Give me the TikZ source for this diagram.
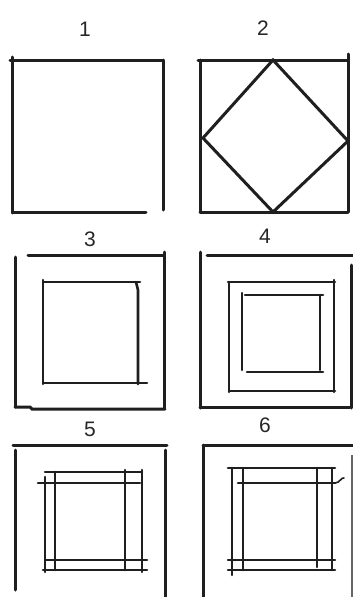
\documentclass[tikz,border=0pt]{standalone}
\usepackage{fontspec}
\setmainfont{Liberation Sans}
\begin{document}
\begin{tikzpicture}[x=1pt,y=-1pt,
  ln/.style={line width=3pt, draw=black!88, line cap=round},
  thin/.style={line width=2.6pt, draw=black!88, line cap=round},
  lab/.style={font=\fontsize{21}{21}\selectfont, text=black!85, inner sep=0pt}]
\useasboundingbox[fill=white] (0,0) rectangle (353,597);
% labels
\node[lab] (l1) at (85,29) {1};
\node[lab] (l2) at (263,28) {2};
\node[lab] (l3) at (90,239) {3};
\node[lab] (l4) at (265,236) {4};
\node[lab] (l5) at (90,429) {5};
\node[lab] (l6) at (265,425) {6};
% panel 1
\draw[ln] (10,60) -- (163,60);
\draw[ln] (12,57) -- (12,213);
\draw[ln] (163,60) -- (163,210);
\draw[ln] (13,212) -- (146,212);
% panel 2
\draw[ln] (198,60) -- (347,60);
\draw[ln] (200,60) -- (200,212);
\draw[ln] (348,54) -- (348,212);
\draw[ln] (200,212) -- (348,212);
\draw[ln] (273,60) -- (203,138) -- (273,212) -- (348,141) -- cycle;
% panel 3
\draw[ln] (28,255) -- (164,255);
\draw[ln] (15,257) -- (15,407);
\draw[ln] (164,252) -- (164,408);
\draw[ln] (15,407) -- (30,407) -- (32,409) -- (165,409);
\draw[thin] (43,282) -- (140,282);
\draw[thin] (43,280) -- (43,384);
\draw[thin] (136,282) -- (138,290) -- (138,384);
\draw[thin] (43,383) -- (147,383);
% panel 4
\draw[ln] (207,255) -- (353,255);
\draw[ln] (200,252) -- (200,408);
\draw[ln] (351,265) -- (351,408);
\draw[ln] (200,407) -- (350,407);
\draw[thin] (228,282) -- (335,282);
\draw[thin] (229,282) -- (229,392);
\draw[thin] (334,280) -- (334,392);
\draw[thin] (229,391) -- (335,391);
\draw[thin] (245,295) -- (323,295);
\draw[thin] (242,293) -- (242,370);
\draw[thin] (320,295) -- (320,370);
\draw[thin] (247,372) -- (323,372);
% panel 5
\draw[ln] (13,445) -- (167,445);
\draw[ln] (15,450) -- (15,590);
\draw[ln] (165,450) -- (165,597);
\draw[thin] (45,472) -- (142,472);
\draw[thin] (38,483) -- (140,483);
\draw[thin] (45,560) -- (147,560);
\draw[thin] (43,570) -- (147,570);
\draw[thin] (45,477) -- (45,572);
\draw[thin] (55,472) -- (55,570);
\draw[thin] (125,470) -- (125,570);
\draw[thin] (142,470) -- (142,572);
% panel 6
\draw[ln] (203,445) -- (353,445);
\draw[ln] (203,445) -- (203,597);
\draw[line width=1.4pt, draw=black!60] (352,455) -- (352,597);
\draw[thin] (228,468) -- (335,468);
\draw[thin] (238,483) -- (335,483);
\draw[line width=1.6pt, draw=black!88, line cap=round] (335,483) .. controls (340,483) and (341,477) .. (344,478);
\draw[thin] (228,560) -- (335,560);
\draw[thin] (228,570) -- (335,570);
\draw[thin] (232,468) -- (232,575);
\draw[thin] (243,468) -- (243,570);
\draw[thin] (317,468) -- (317,567);
\draw[thin] (332,468) -- (332,570);
\end{tikzpicture}
\end{document}
